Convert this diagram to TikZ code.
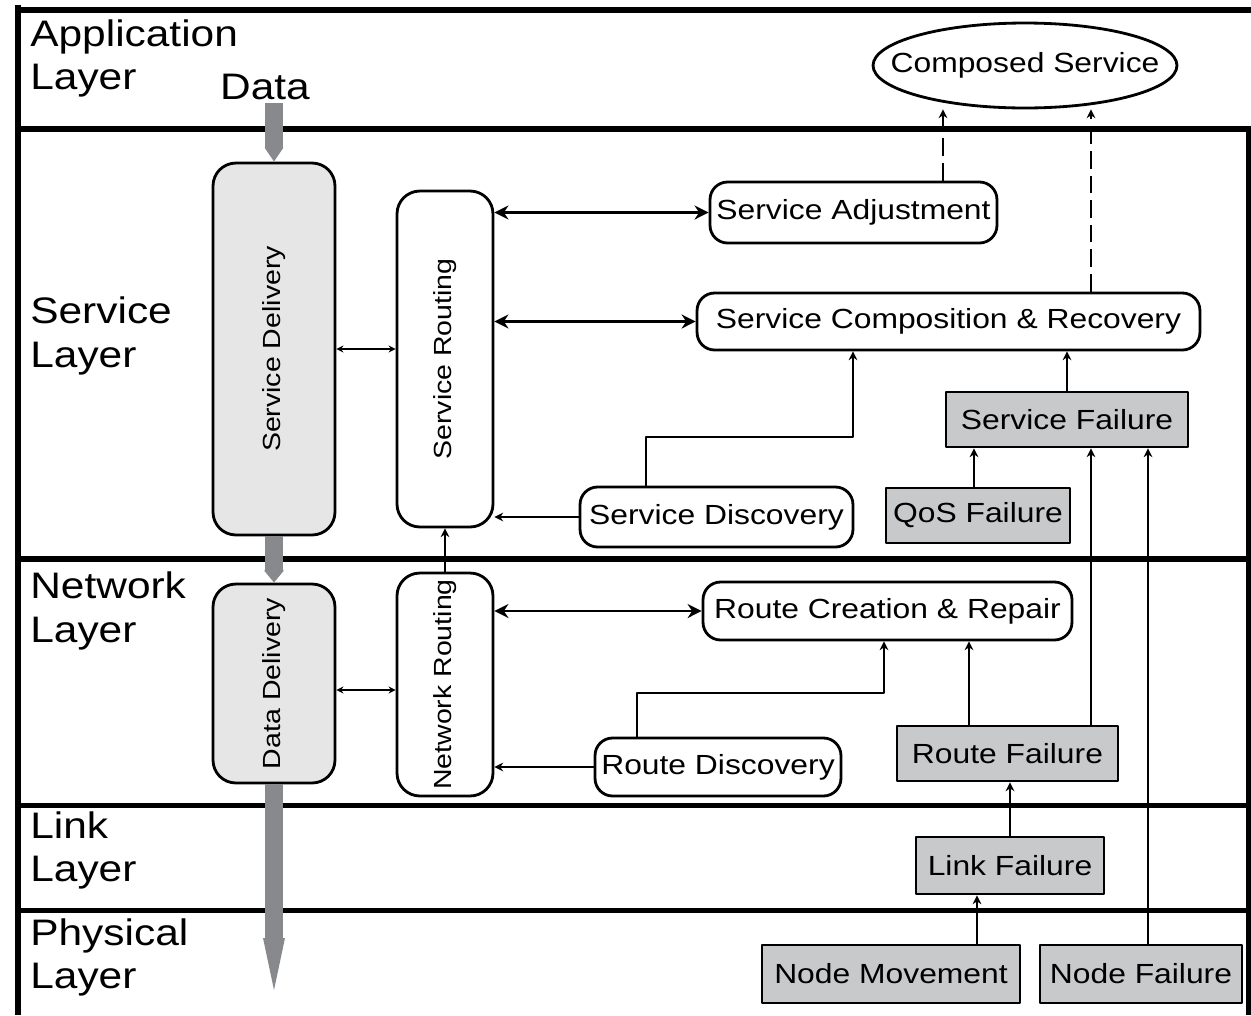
\documentclass[tikz,border=0pt]{standalone}
\usepackage{graphicx}
\usepackage{fontspec}
\setmainfont{Liberation Sans}[FakeStretch=1.15]
\usetikzlibrary{arrows.meta,shapes.geometric}

\definecolor{flowgray}{RGB}{136,137,141}
\definecolor{delivfill}{RGB}{230,230,230}
\definecolor{failfill}{RGB}{200,201,203}

\newcommand{\boxfont}{\fontsize{15.75}{18}\selectfont}
\newcommand{\layerfont}{\fontsize{21}{24.8}\selectfont}

\tikzset{
  layerline/.style={line width=3.2pt},
  layerlabel/.style={anchor=north west,inner sep=0pt,align=left,font=\layerfont},
  tallbox/.style={draw,line width=1.6pt,rounded corners=13pt,inner sep=0pt,font=\fontsize{14.1}{16}\selectfont},
  ovalbox/.style={draw,line width=1.6pt,rounded corners=10pt,fill=white,inner sep=0pt,font=\boxfont},
  failbox/.style={draw,line width=1.6pt,fill=failfill,inner sep=0pt,font=\boxfont},
  link/.style={line width=1.4pt,-{Stealth[length=5pt,width=5pt]}},
  biglink/.style={line width=1.6pt,{Stealth[length=8pt,width=8pt]}-{Stealth[length=8pt,width=8pt]}},
  smalllink/.style={line width=1.1pt,{Stealth[length=4pt,width=4pt]}-{Stealth[length=4pt,width=4pt]}},
  dashlink/.style={line width=1.2pt,dash pattern=on 10pt off 4pt,-{Stealth[length=5pt,width=5pt]}},
  dataflow/.style={draw=flowgray,line width=10.2pt}
}

\begin{document}
\begin{tikzpicture}[x=0.02cm,y=-0.02cm,line join=round]
\useasboundingbox (0,0) rectangle (1251,1015);

\draw[layerline] (18,5) -- (18,1015);
\draw[layerline] (16,10) -- (1251,10);
\draw[layerline] (1249,129) -- (1249,1015);
\foreach \ly in {129,559,805.5,910.5}
  \draw[layerline] (18,\ly) -- (1251,\ly);

\node[layerlabel] (applab) at (30,19) {Application\\Layer};
\node[layerlabel] (servlab) at (30,296.5) {Service\\Layer};
\node[layerlabel] (netlab) at (30,571.5) {Network\\Layer};
\node[layerlabel] (linklab) at (30,811) {Link\\Layer};
\node[layerlabel] (physlab) at (30,918) {Physical\\Layer};
\node[anchor=base,inner sep=2pt,font=\layerfont] (data) at (265,99) {Data};

\node[tallbox,fill=delivfill,minimum width=2.44cm,minimum height=7.44cm] (sdeliv) at (274,349) {\rotatebox{90}{Service Delivery}};
\node[tallbox,fill=white,minimum width=1.92cm,minimum height=6.72cm] (srout) at (445,359) {\rotatebox{90}{Service Routing}};
\node[tallbox,fill=delivfill,minimum width=2.44cm,minimum height=3.98cm] (ddeliv) at (274,683.5) {\rotatebox{90}{Data Delivery}};
\node[tallbox,fill=white,minimum width=1.92cm,minimum height=4.46cm] (nrout) at (445,684.5) {\rotatebox{90}{Network Routing}};

\node[draw,ellipse,line width=1.6pt,fill=white,inner sep=0pt,minimum width=6.08cm,minimum height=1.7cm,font=\boxfont] (comp) at (1025,65.5) {\makebox[0pt]{Composed Service}};
\node[ovalbox,minimum width=5.74cm,minimum height=1.22cm] (sadj) at (853.5,212.5) {Service Adjustment};
\node[ovalbox,minimum width=10.06cm,minimum height=1.14cm] (scr) at (948.5,321.5) {Service Composition \& Recovery};
\node[ovalbox,minimum width=5.46cm,minimum height=1.2cm] (sdisc) at (716.5,517) {Service Discovery};
\node[failbox,minimum width=4.84cm,minimum height=1.1cm] (sfail) at (1067,419.5) {Service Failure};
\node[failbox,minimum width=3.68cm,minimum height=1.1cm] (qos) at (978,515.5) {QoS Failure};
\node[ovalbox,minimum width=7.38cm,minimum height=1.16cm] (rcr) at (887.5,611) {Route Creation \& Repair};
\node[ovalbox,minimum width=4.92cm,minimum height=1.16cm] (rdisc) at (718,767) {Route Discovery};
\node[failbox,minimum width=4.42cm,minimum height=1.1cm] (rfail) at (1007.5,753.5) {Route Failure};
\node[failbox,minimum width=3.76cm,minimum height=1.14cm] (lfail) at (1010,865.5) {Link Failure};
\node[failbox,minimum width=5.16cm,minimum height=1.16cm] (nmove) at (891,974) {Node Movement};
\node[failbox,minimum width=4.04cm,minimum height=1.16cm] (nfail) at (1141,974) {Node Failure};

\coordinate (dataend) at (274,990);
\coordinate (headstart) at (274,938);
\draw[dataflow,-{Triangle[length=8pt,width=10.2pt]}] (data.south -| sdeliv.north) -- (sdeliv.north);
\draw[dataflow,-{Triangle[length=7pt,width=11pt]}] (sdeliv.south) -- (ddeliv.north);
\draw[dataflow] (ddeliv.south) -- (headstart);
\fill[flowgray] ([xshift=-0.22cm]headstart) -- ([xshift=0.22cm]headstart) -- (dataend) -- cycle;

\draw[smalllink] (sdeliv.east) -- (sdeliv.east -| srout.west);
\draw[smalllink] ([yshift=-0.13cm]ddeliv.east) -- ([yshift=-0.13cm]ddeliv.east -| nrout.west);
\draw[link] (nrout.north) -- (srout.south);

\draw[biglink] (srout.east |- sadj.west) -- (sadj.west);
\draw[biglink] (srout.east |- scr.west) -- (scr.west);
\draw[biglink] (nrout.east |- rcr.west) -- (rcr.west);
\draw[link] (sdisc.west) -- (sdisc.west -| srout.east);
\draw[link] (rdisc.west) -- (rdisc.west -| nrout.east);

\coordinate (sdbend) at (853,437);
\coordinate (rdbend) at (884,693);
\draw[link] ([xshift=-1.41cm]sdisc.north) |- (sdbend) -- (sdbend |- scr.south);
\draw[link] ([xshift=-1.62cm]rdisc.north) |- (rdbend) -- (rdbend |- rcr.south);

\draw[dashlink] ([xshift=1.79cm]sadj.north) -- ([xshift=1.79cm]sadj.north |- comp.south);
\draw[dashlink] ([xshift=2.85cm]scr.north) -- ([xshift=2.85cm]scr.north |- comp.south);

\draw[link] (sfail.north) -- (sfail.north |- scr.south);
\draw[link] ([xshift=-0.08cm]qos.north) -- ([xshift=-0.08cm]qos.north |- sfail.south);
\draw[link] ([xshift=-0.77cm]rfail.north) -- ([xshift=-0.77cm]rfail.north |- rcr.south);
\draw[link] ([xshift=1.67cm]rfail.north) -- ([xshift=1.67cm]rfail.north |- sfail.south);
\draw[link] ([xshift=0.14cm]nfail.north) -- ([xshift=0.14cm]nfail.north |- sfail.south);
\draw[link] (lfail.north) -- (lfail.north |- rfail.south);
\draw[link] ([xshift=1.72cm]nmove.north) -- ([xshift=1.72cm]nmove.north |- lfail.south);
\end{tikzpicture}
\end{document}
